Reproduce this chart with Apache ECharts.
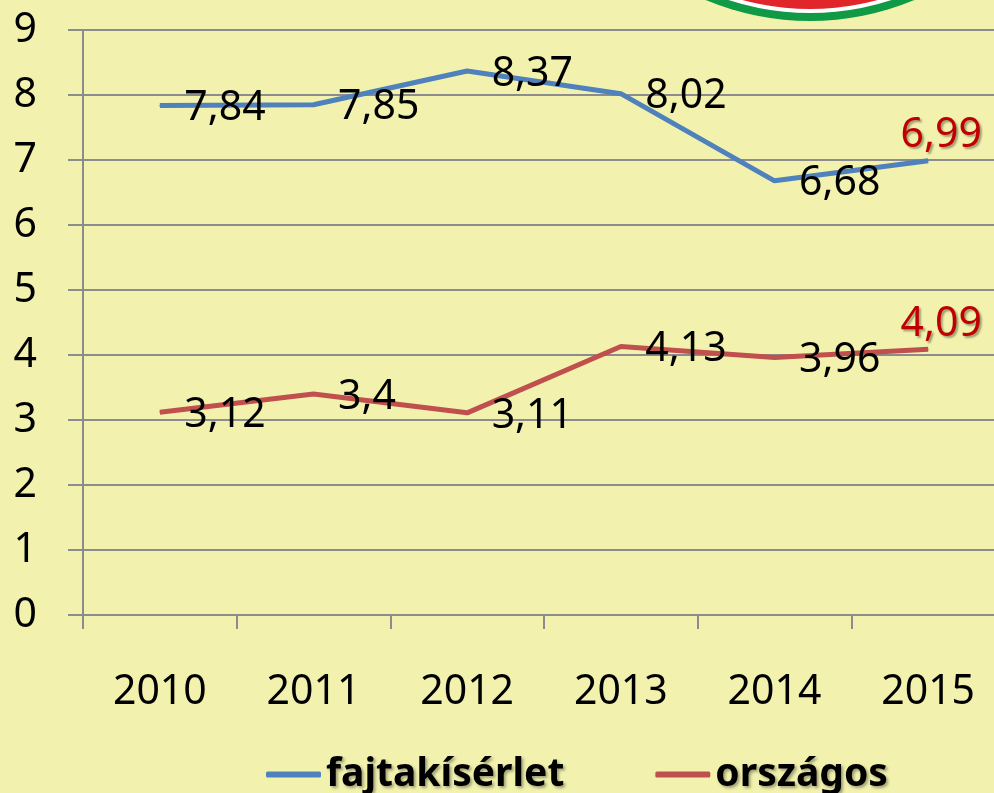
<!DOCTYPE html>
<html>
<head>
<meta charset="utf-8">
<script src="https://cdn.jsdelivr.net/npm/echarts@6/dist/echarts.min.js"></script>
<style>
  html, body { margin: 0; padding: 0; background: #F2F2AE; }
  #container { width: 994px; height: 793px; }
</style>
</head>
<body>
<div id="container"></div>
<script>
var years = ['2010', '2011', '2012', '2013', '2014', '2015'];
var fajtakiserlet = [7.84, 7.85, 8.37, 8.02, 6.68, 6.99];
var orszagos = [3.12, 3.4, 3.11, 4.13, 3.96, 4.09];
var yTicks = [0, 9, 1]; // min, max, interval

var FONT = 'Noto Sans';

function comma(p) {
  return String(p.value).replace('.', ',');
}

// last point of each series gets a red label above the line
function buildData(list) {
  return list.map(function (v, i) {
    if (i !== list.length - 1) return v;
    return {
      value: v,
      label: {
        position: 'top',
        distance: 4,
        offset: [13, 0],
        color: '#C00000',
        textShadowColor: 'rgba(0,0,0,0.35)',
        textShadowBlur: 2,
        textShadowOffsetX: 2,
        textShadowOffsetY: 2
      }
    };
  });
}

var dom = document.getElementById('container');
var myChart = echarts.init(dom);
var option = {
  backgroundColor: '#F2F2AE',
  animation: false,
  textStyle: { fontFamily: FONT },
  graphic: [
    // logo fragment at the top edge
    { type: 'circle', shape: { cx: 810, cy: -250, r: 271 }, style: { fill: '#109A45' } },
    { type: 'circle', shape: { cx: 810, cy: -250, r: 263 }, style: { fill: '#FFFFFF' } },
    { type: 'circle', shape: { cx: 810, cy: -250, r: 259 }, style: { fill: '#E0262B' } }
  ],
  grid: { left: 83, top: 30, width: 922, height: 585, outerBoundsMode: 'none' },
  legend: {
    left: 261,
    top: 750,
    itemGap: 91,
    itemWidth: 55,
    itemHeight: 6,
    icon: 'roundRect',
    textStyle: {
      fontFamily: FONT,
      fontSize: 39,
      fontWeight: 'bold',
      color: '#000',
      textShadowColor: 'rgba(0,0,0,0.35)',
      textShadowBlur: 3,
      textShadowOffsetX: 2,
      textShadowOffsetY: 2
    },
    data: ['fajtakísérlet', 'országos']
  },
  xAxis: {
    type: 'category',
    data: years,
    boundaryGap: true,
    axisLine: { lineStyle: { color: '#8C8C8C', width: 2 } },
    axisTick: { show: true, length: 14, lineStyle: { color: '#8C8C8C', width: 2 } },
    axisLabel: { fontFamily: FONT, fontSize: 41, color: '#000', margin: 57 }
  },
  yAxis: {
    type: 'value',
    min: yTicks[0],
    max: yTicks[1],
    interval: yTicks[2],
    axisLine: { show: true, lineStyle: { color: '#8C8C8C', width: 2 } },
    axisTick: { show: true, length: 15, lineStyle: { color: '#8C8C8C', width: 2 } },
    splitLine: { lineStyle: { color: '#8C8C8C', width: 2 } },
    axisLabel: { fontFamily: FONT, fontSize: 41, color: '#000', margin: 46 }
  },
  series: [
    {
      name: 'fajtakísérlet',
      type: 'line',
      data: buildData(fajtakiserlet),
      symbol: 'circle',
      symbolSize: 1,
      itemStyle: { color: '#4F81BD' },
      lineStyle: { color: '#4F81BD', width: 5 },
      label: {
        show: true,
        position: 'right',
        distance: 24,
        offset: [0, 3],
        fontFamily: FONT,
        fontSize: 41,
        color: '#000',
        formatter: comma
      }
    },
    {
      name: 'országos',
      type: 'line',
      data: buildData(orszagos),
      symbol: 'circle',
      symbolSize: 1,
      itemStyle: { color: '#C0504D' },
      lineStyle: { color: '#C0504D', width: 5 },
      label: {
        show: true,
        position: 'right',
        distance: 24,
        offset: [0, 3],
        fontFamily: FONT,
        fontSize: 41,
        color: '#000',
        formatter: comma
      }
    }
  ]
};
myChart.setOption(option, true);
</script>
</body>
</html>
